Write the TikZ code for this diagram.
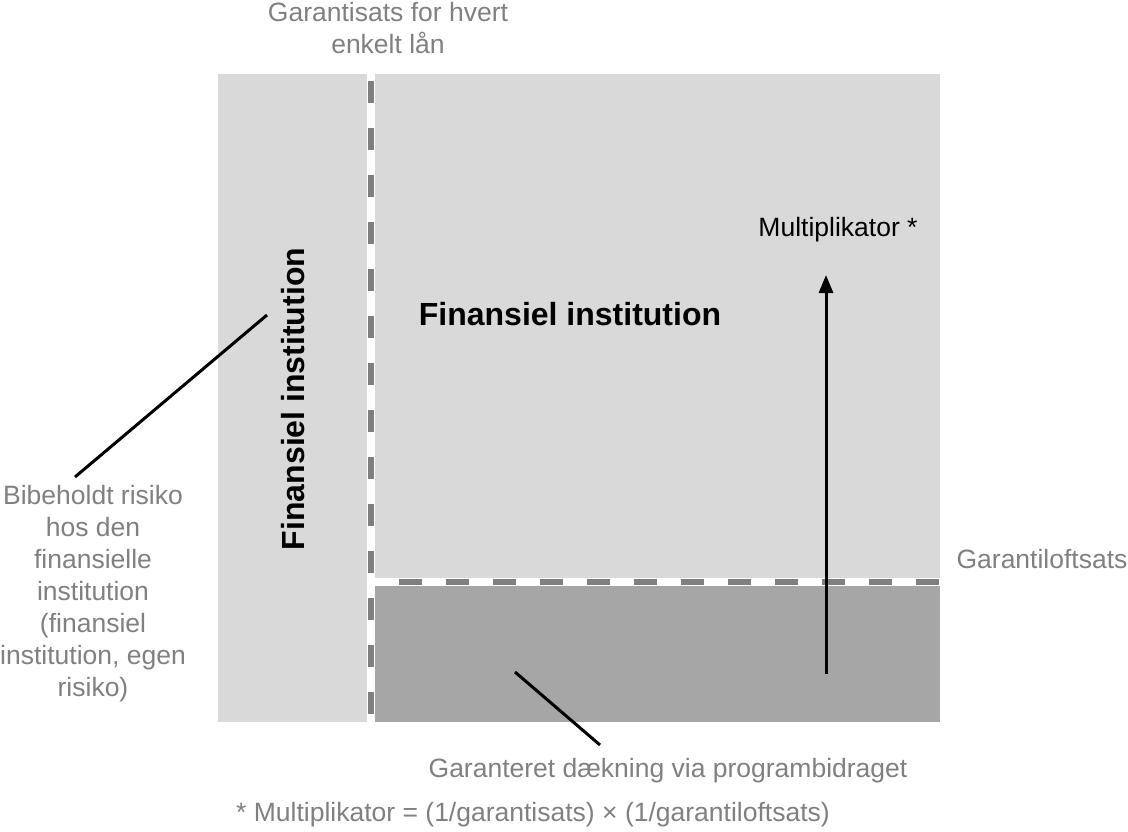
\documentclass[tikz,border=0pt]{standalone}
\usepackage{fontspec}
\setmainfont{Liberation Sans}
\usetikzlibrary{arrows.meta}
\definecolor{lg}{HTML}{D9D9D9}
\definecolor{dg}{HTML}{A6A6A6}
\definecolor{dashc}{HTML}{7F7F7F}
\definecolor{txtg}{HTML}{808080}
\begin{document}
\begin{tikzpicture}[x=1pt,y=-1pt,
  lbl/.style={text=txtg,font=\fontsize{26.5}{32}\selectfont,align=center,inner sep=0pt},
  blbl/.style={text=black,font=\fontsize{32}{38}\selectfont\bfseries,inner sep=0pt},
  mlbl/.style={text=black,font=\fontsize{26.5}{32}\selectfont,inner sep=0pt},
  leader/.style={draw=black,line width=3pt},
  gapline/.style={draw=white,line width=8pt},
  dashline/.style={draw=dashc,line width=6pt}]
\useasboundingbox (0,0) rectangle (1128,832);
\fill[lg] (218,74) rectangle (940,722);
\fill[dg] (374,585) rectangle (940,722);
\draw[gapline] (371,74) -- (371,722);
\draw[gapline] (371,582) -- (945,582);
\draw[dashline,dash pattern=on 22pt off 25pt,dash phase=40pt] (371,74) -- (371,722);
\draw[dashline,dash pattern=on 23pt off 24pt,dash phase=23pt] (375,582) -- (945,582);
\node[lbl] (top) at (388,28) {Garantisats for hvert\\enkelt lån};
\node[lbl] (left) at (93,594) {Bibeholdt risiko\\hos den\\finansielle\\institution\\(finansiel\\institution, egen\\risiko)};
\node[blbl,rotate=90] (vfi) at (293,399) {Finansiel institution};
\node[blbl] (cfi) at (570,314) {Finansiel institution};
\node[mlbl] (mult) at (838,230) {Multiplikator *};
\node[lbl] (cap) at (1042,559) {Garantiloftsats};
\node[lbl] (cov) at (668,771) {Garanteret dækning via programbidraget};
\node[lbl] (foot) at (533,815) {* Multiplikator = (1/garantisats) × (1/garantiloftsats)};
\coordinate (l1a) at (267,315);
\coordinate (l1b) at (75,477);
\coordinate (l2a) at (515,672);
\coordinate (l2b) at (600,745);
\coordinate (arA) at (826,674);
\coordinate (arB) at (826,275);
\draw[leader] (l1a) -- (l1b);
\draw[leader] (l2a) -- (l2b);
\draw[line width=3pt,-{Triangle[length=18pt,width=14pt]}] (arA) -- (arB);
\end{tikzpicture}
\end{document}
